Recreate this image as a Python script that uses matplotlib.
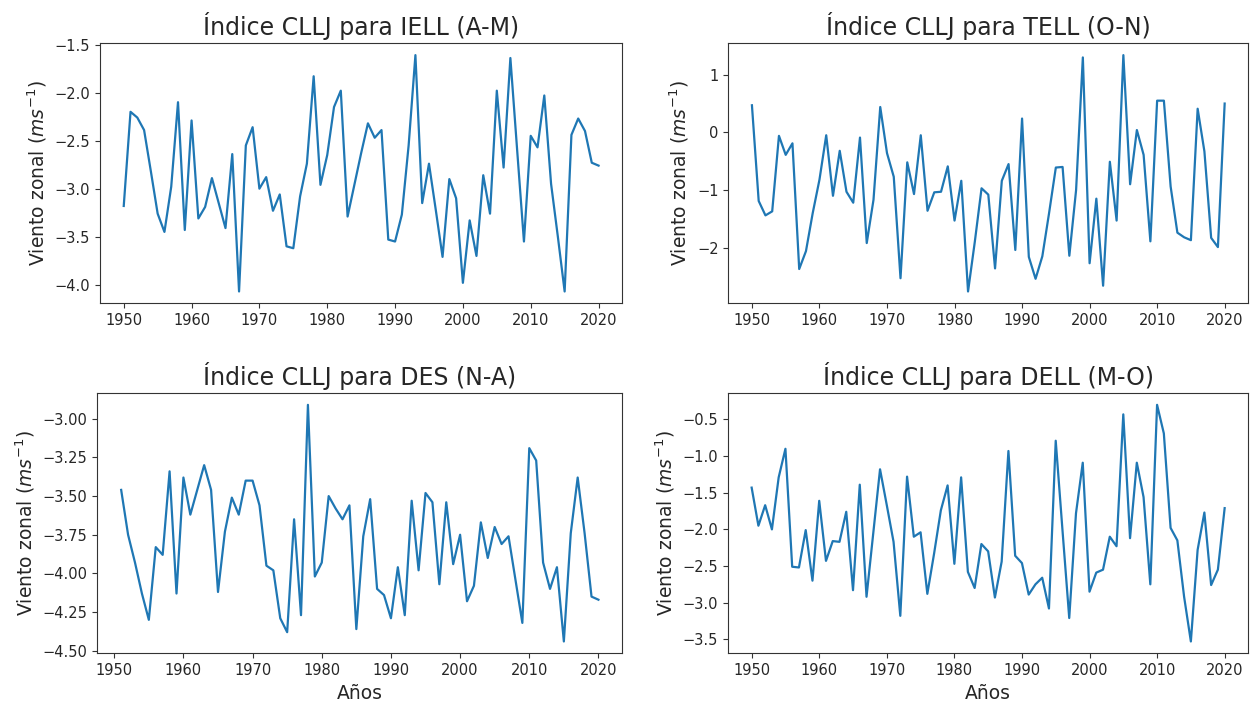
import matplotlib
matplotlib.use("Agg")
import matplotlib.pyplot as plt

years_a = list(range(1950, 2021))
years_des = list(range(1951, 2021))

iell = [-3.18, -2.20, -2.26, -2.39, -2.82, -3.26, -3.45, -2.98, -2.10, -3.43,
        -2.29, -3.31, -3.19, -2.89, -3.15, -3.41, -2.64, -4.07, -2.55, -2.36,
        -3.00, -2.88, -3.23, -3.06, -3.60, -3.62, -3.08, -2.74, -1.83, -2.96,
        -2.65, -2.15, -1.98, -3.29, -2.96, -2.63, -2.32, -2.47, -2.39, -3.53,
        -3.55, -3.27, -2.55, -1.61, -3.15, -2.74, -3.22, -3.71, -2.90, -3.10,
        -3.98, -3.33, -3.70, -2.86, -3.26, -1.98, -2.78, -1.64, -2.60, -3.55,
        -2.45, -2.57, -2.03, -2.95, -3.50, -4.07, -2.44, -2.27, -2.40, -2.73,
        -2.76]

tell = [0.47, -1.19, -1.44, -1.37, -0.06, -0.39, -0.19, -2.37, -2.06, -1.40,
        -0.82, -0.05, -1.10, -0.32, -1.03, -1.22, -0.09, -1.92, -1.17, 0.44,
        -0.36, -0.77, -2.53, -0.52, -1.07, -0.05, -1.36, -1.04, -1.03, -0.59,
        -1.53, -0.84, -2.76, -1.90, -0.97, -1.08, -2.36, -0.84, -0.55, -2.04,
        0.24, -2.16, -2.54, -2.15, -1.40, -0.61, -0.60, -2.14, -1.00, 1.30,
        -2.27, -1.15, -2.66, -0.51, -1.53, 1.34, -0.90, 0.04, -0.39, -1.89,
        0.55, 0.55, -0.94, -1.74, -1.82, -1.87, 0.41, -0.33, -1.83, -1.99,
        0.50]

des = [-3.46, -3.75, -3.93, -4.13, -4.30, -3.83, -3.88, -3.34, -4.13,
       -3.38, -3.62, -3.46, -3.30, -3.46, -4.12, -3.73, -3.51, -3.62, -3.40,
       -3.40, -3.56, -3.95, -3.98, -4.29, -4.38, -3.65, -4.27, -2.91, -4.02,
       -3.93, -3.50, -3.58, -3.65, -3.56, -4.36, -3.76, -3.52, -4.10, -4.14,
       -4.29, -3.96, -4.27, -3.53, -3.98, -3.48, -3.54, -4.07, -3.54, -3.94,
       -3.75, -4.18, -4.08, -3.67, -3.90, -3.70, -3.81, -3.76, -4.04, -4.32,
       -3.19, -3.27, -3.93, -4.10, -3.96, -4.44, -3.74, -3.38, -3.74, -4.15,
       -4.17]

dell = [-1.43, -1.95, -1.67, -2.00, -1.29, -0.90, -2.51, -2.52, -2.01, -2.70,
        -1.61, -2.43, -2.16, -2.17, -1.76, -2.83, -1.39, -2.92, -2.05, -1.18,
        -1.67, -2.17, -3.18, -1.28, -2.10, -2.04, -2.88, -2.33, -1.74, -1.40,
        -2.47, -1.29, -2.58, -2.80, -2.20, -2.30, -2.93, -2.44, -0.93, -2.36,
        -2.46, -2.89, -2.75, -2.66, -3.08, -0.79, -2.01, -3.21, -1.78, -1.09,
        -2.85, -2.59, -2.55, -2.10, -2.23, -0.43, -2.12, -1.09, -1.56, -2.75,
        -0.30, -0.69, -1.98, -2.15, -2.92, -3.53, -2.28, -1.77, -2.76, -2.55,
        -1.71]

titles = ["Índice CLLJ para IELL (A-M)", "Índice CLLJ para TELL (O-N)",
          "Índice CLLJ para DES (N-A)", "Índice CLLJ para DELL (M-O)"]
ylabel = "Viento zonal ($ms^{-1}$)"
xlabel = "Años"

plt.rcParams['font.family'] = ['DejaVu Sans']

fig = plt.figure(figsize=(12.58, 7.03), dpi=100)
W, H = 1258, 703
def pos(l, r, t, b):
    return [l / W, 1 - b / H, (r - l) / W, (b - t) / H]

axes = [fig.add_axes(pos(100, 622.3, 43.3, 303.3)),
        fig.add_axes(pos(728.3, 1248.3, 43.3, 303.3)),
        fig.add_axes(pos(97.3, 622.3, 393.0, 653.3)),
        fig.add_axes(pos(728.0, 1248.3, 393.0, 653.3))]

text_color = '#262626'
series = [(years_a, iell), (years_a, tell), (years_des, des), (years_a, dell)]
for i, (ax, (x, y)) in enumerate(zip(axes, series)):
    ax.plot(x, y, color='#1f77b4', linewidth=1.6)
    ax.set_title(titles[i], fontsize=17, color=text_color)
    ax.set_ylabel(ylabel, fontsize=13.5, color=text_color)
    ax.tick_params(labelsize=10.5, labelcolor=text_color, color='#333333')
    for s in ax.spines.values():
        s.set_edgecolor('#333333')
    ax.set_xticks(range(1950, 2021, 10))
    if i >= 2:
        ax.set_xlabel(xlabel, fontsize=13.5, color=text_color)

axes[0].set_yticks([-4.0, -3.5, -3.0, -2.5, -2.0, -1.5])
axes[1].set_yticks([-2, -1, 0, 1])
axes[2].set_yticks([-4.5, -4.25, -4.0, -3.75, -3.5, -3.25, -3.0])
axes[3].set_yticks([-3.5, -3.0, -2.5, -2.0, -1.5, -1.0, -0.5])

fig.savefig("out.png", dpi=100)
